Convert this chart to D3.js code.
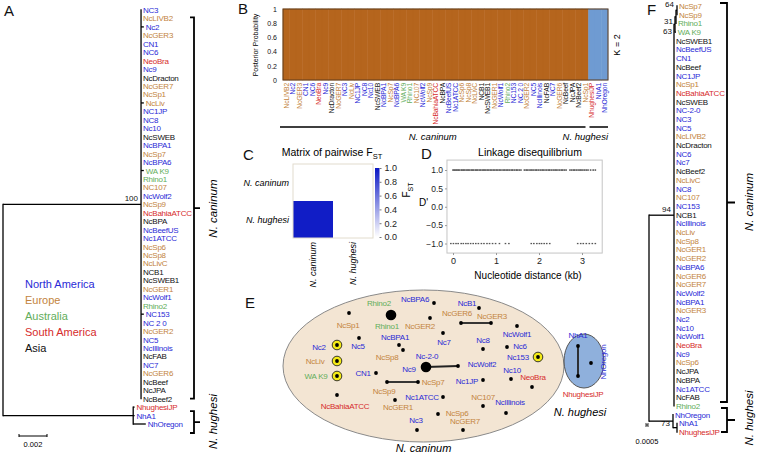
<!DOCTYPE html>
<html><head><meta charset="utf-8">
<script src="https://cdn.jsdelivr.net/npm/d3@7"></script>
<style>
body{margin:0;background:#fff}
svg{display:block;font-family:"Liberation Sans",Arial,sans-serif}
</style>
</head><body>
<svg id="c" width="757" height="453"></svg>
<script>
// ================= DATA =================
const regionNames  = ["North America","Europe","Australia","South America","Asia"];
const regionColors = ["#2a2ad6","#c3843e","#62ad5a","#d62b2b","#111111"];
const strainsNA = ["NC3","Nc2","CN1","NC6","Nc9","NC1JP","NC8","Nc10","NcBPA1","NcBPA6","NcWolf2","NcBeefUS","Nc1ATCC","NcWolf1","NC153","Nc153","NC 2 0","NC-2-0","Nc-2-0","NC5","Nc5","NcIllinois","NC7","Nc7","NhA1","NhOregon","NcB1","Nc8","Nc6","Nc1JP","Nc3"];
const strainsEU = ["NcLIVB2","NcGER3","NcGER7","NcSp1","NcLiv","NcSp7","NC107","NcSp9","NcSp6","NcSp8","NcLivC","NcGER1","NcGER2","NcGER6"];
const strainsAU = ["WA K9","Rhino1","Rhino2"];
const strainsSA = ["NeoBra","NcBahiaATCC","NhughesiJP"];
const strainsAS = ["NcDracton","NcSWEB","NcBPA","NCB1","NcSWEB1","NcFAB","NcBeef","NcJPA","NcBeef2"];

// Panel A: maximum-likelihood tree (branch lengths in substitutions/site)
const treeA = "((NC3:0,NcLIVB2:0,Nc2:0.0002,NcGER3:0,CN1:0,NC6:0,NeoBra:0,Nc9:0,NcDracton:0,NcGER7:0,NcSp1:0,NcLiv:0.0002,NC1JP:0,NC8:0,Nc10:0,NcSWEB:0,NcBPA1:0,NcSp7:0,NcBPA6:0,WA K9:0.0002,Rhino1:0,NC107:0,NcWolf2:0,NcSp9:0,NcBahiaATCC:0,NcBPA:0,NcBeefUS:0,Nc1ATCC:0,NcSp6:0,NcSp8:0,NcLivC:0,NCB1:0,NcSWEB1:0,NcGER1:0,NcWolf1:0,Rhino2:0,NC153:0.0002,NC 2 0:0,NcGER2:0,NC5:0,NcIllinois:0,NcFAB:0,NC7:0,NcGER6:0,NcBeef:0,NcJPA:0,NcBeef2:0)100:0.00986,(NhughesiJP:0.0001,NhA1:0.0001,NhOregon:0.0009):0.0093);";
const treeAScaleBar = 0.002;

// Panel B: STRUCTURE K = 2
const structLabels = ["NcLIVB2","Nc2","NcGER3","CN1","NC6","NeoBra","Nc9","NcDracton","NcGER7","NC3","NcLiv","NC1JP","NC8","Nc10","NcSWEB","NcBPA1","NcSp7","NcBPA6","WA K9","Rhino1","NC107","NcWolf2","NcSp9","NcBahiaATCC","NcBPA","NcBeefUS","Nc1ATCC","NcSp6","NcSp8","NcLivC","NCB1","NcSWEB1","NcGER1","NcWolf1","Rhino2","NC153","NC 2 0","NcGER2","NC5","NcIllinois","NcFAB","NC7","NcGER6","NcBeef","NcJPA","NcBeef2","NcSp1","NhughesiJP","NhA1","NhOregon"];
const structCluster1 = [1,1,1,1,1,1,1,1,1,1,1,1,1,1,1,1,1,1,1,1,1,1,1,1,1,1,1,1,1,1,1,1,1,1,1,1,1,1,1,1,1,1,1,1,1,1,1,0,0,0];
const structTicks = [0,0.2,0.4,0.6,0.8,1];
const structColors = ["#b5651d","#6f9bd2"];

// Panel C: pairwise FST
const fstPops = ["N. caninum","N. hughesi"];
const fstValues = [[0,null],[0.97,0]];
const fstTicks = [0,0.2,0.4,0.6,0.8,1.0];

// Panel D: linkage disequilibrium (distance kb, D')
const ldDistPos = [0.00,0.03,0.06,0.09,0.12,0.15,0.19,0.22,0.25,0.28,0.32,0.35,0.38,0.42,0.45,0.48,0.52,0.55,0.58,0.62,0.65,0.69,0.72,0.75,0.79,0.82,0.86,0.89,0.93,0.96,1.00,1.03,1.07,1.10,1.14,1.18,1.21,1.25,1.28,1.32,1.36,1.39,1.43,1.47,1.50,1.54,1.58,1.66,1.70,1.73,1.77,1.81,1.84,1.88,1.92,1.95,1.99,2.03,2.07,2.10,2.14,2.18,2.22,2.25,2.29,2.33,2.37,2.40,2.44,2.48,2.52,2.55,2.59,2.63,2.72,2.76,2.80,2.83,2.87,2.91,2.95,2.98,3.02,3.06,3.10,3.14,3.20,3.26,3.31];
const ldDistNeg = [-0.05,0.01,0.07,0.12,0.19,0.24,0.30,0.35,0.41,0.47,0.53,0.59,0.66,0.72,0.79,0.85,0.92,0.99,1.08,1.22,1.30,1.82,1.88,1.95,2.01,2.06,2.12,2.18,2.25,2.90,2.97,3.03,3.10,3.17,3.24,3.31];
const ldYTicks = [-1,-0.5,0,0.5,1];
const ldXTicks = [0,1,2,3];

// Panel E: haplotype network (layout units), number of isolates, highlighted haplotypes
const eHapX = [111,154,69,150,181,211,199,119,123,79,57,57,57,163,203,237,227,258,146,178,96,107,138,203,231,252,163,203,226,57,115,158,183,137,298,298,311];
const eHapY = [32,20,30,35,40,40,25,62,67,55,62,78,93,50,66,43,64,74,84,83,90,99,99,97,96,104,114,123,130,112,117,131,147,147,63,93,80];
const eHapCount = [2,1,1,1,1,1,1,1,1,1,1,1,1,1,1,1,1,1,2,1,1,1,1,1,1,1,1,1,1,1,1,1,1,1,1,1,1];
const eHapMarked = [0,0,0,0,0,0,0,0,0,0,1,1,1,0,0,0,0,1,0,0,0,0,0,0,0,0,0,0,0,0,0,0,0,0,0,0,0];
const eEdges = [[4,5],[21,22],[18,19],[34,35]];
const eLabNames = ["Rhino2","Rhino1","NcBPA6","NcSp1","NcGER2","NcGER6","NcGER3","NcB1","NcBPA1","NcSp8","Nc5","Nc2","NcLiv","WA K9","Nc7","Nc8","NcWolf1","Nc6","Nc153","Nc-2-0","Nc9","NcWolf2","CN1","NcSp9","NcSp7","Nc1JP","Nc10","NeoBra","Nc1ATCC","NC107","NcIllinois","NcBahiaATCC","NcGER1","NcSp6","NcGER7","Nc3","NhA1","NhughesiJP","NhOregon"];
const eLabX = [99,107,135,68,140,177,212,187,115,107,78,39,35,36,164,203,237,240,238,147,129,202,83,104,153,187,232,253,142,203,230,65,118,177,185,136,298,303,323];
const eLabY = [20,43,16,42,43,30,33,20,54,74,63,64,78,93,59,57,51,63,74,73,86,81,90,108,99,98,87,94,114,114,119,123,124,130,138,137,52,111,79];
const eSpecies = ["N. caninum","N. hughesi"];

// Panel F: second tree
const treeF = "(((((NcSp7:0,NcSp9:0)64:0.00025,Rhino1:0)31:0.00025,WA K9:0.0002)63:0.00025,NcSWEB1:0,NcBeefUS:0,CN1:0,NcBeef:0,NC1JP:0,NcSp1:0,NcBahiaATCC:0,NcSWEB:0,NC-2-0:0,NC3:0,NC5:0,NcLIVB2:0,NcDracton:0,NC6:0,Nc7:0,NcBeef2:0,NcLivC:0,NC8:0,NC107:0,NC153:0,NCB1:0,NcIllinois:0,NcLiv:0,NcSp8:0,NcGER1:0,NcGER2:0,NcBPA6:0,NcGER6:0,NcGER7:0,NcWolf2:0,NcBPA1:0,NcGER3:0,Nc2:0,Nc10:0,NcWolf1:0,NeoBra:0,Nc9:0,NcSp6:0,NcJPA:0,NcBPA:0,Nc1ATCC:0,NcFAB:0,Rhino2:0)94:0.00625,(NhOregon:0,(NhA1:0,NhughesiJP:0):0.001)73:0.006);";
const treeFScaleBar = 0.0005;

// ================= HELPERS =================
const svg = d3.select("#c");
const strainLists = [strainsNA,strainsEU,strainsAU,strainsSA,strainsAS];
function colorOf(name){
  for(let i=0;i<strainLists.length;i++) if(strainLists[i].includes(name)) return regionColors[i];
  return "#111";
}
function parseNewick(s){
  let i=0;
  function node(){
    const n={children:[]};
    if(s[i]==="("){
      i++; n.children.push(node());
      while(s[i]===","){i++; n.children.push(node());}
      i++;
    }
    let name=""; while(i<s.length && !",():;".includes(s[i])) name+=s[i++];
    n.name=name.trim();
    n.len=0;
    if(s[i]===":"){ i++; let l=""; while(i<s.length && !",();".includes(s[i])) l+=s[i++]; n.len=+l; }
    return n;
  }
  return node();
}
function layoutTree(str){
  const root=d3.hierarchy(parseNewick(str), d=>d.children.length?d.children:null);
  root.eachBefore(d=>{ d.dist = d.parent ? d.parent.dist + d.data.len : 0; });
  root.leaves().forEach((l,i)=>l.idx=i);
  root.eachAfter(d=>{ if(d.children) d.idx=(d.children[0].idx+d.children[d.children.length-1].idx)/2; });
  return root;
}
function drawTree(g, root, x, y, fs, supDy){
  const nodes=root.descendants();
  g.selectAll("line.h").data(nodes.filter(d=>d.parent)).join("line")
    .attr("x1",d=>x(d.parent.dist)).attr("x2",d=>x(d.dist))
    .attr("y1",d=>y(d.idx)).attr("y2",d=>y(d.idx))
    .attr("stroke","#000").attr("stroke-width",1.3);
  g.selectAll("line.v").data(nodes.filter(d=>d.children)).join("line")
    .attr("x1",d=>x(d.dist)).attr("x2",d=>x(d.dist))
    .attr("y1",d=>y(d.children[0].idx)).attr("y2",d=>y(d.children[d.children.length-1].idx))
    .attr("stroke","#000").attr("stroke-width",1.3).attr("stroke-linecap","square");
  g.selectAll("text.leaf").data(root.leaves()).join("text")
    .attr("x",d=>x(d.dist)+2).attr("y",d=>y(d.idx)+3)
    .attr("font-size",fs).attr("letter-spacing","-0.25px")
    .attr("fill",d=>colorOf(d.data.name)).text(d=>d.data.name);
  g.selectAll("text.sup").data(nodes.filter(d=>d.children && d.data.name)).join("text")
    .attr("x",d=>x(d.dist)-3).attr("y",d=>y(d.idx)+(supDy[d.data.name]??-3))
    .attr("text-anchor","end").attr("font-size",8).attr("fill","#111").text(d=>d.data.name);
}
function bracket(g, x, y1, y2, w, tick){
  g.append("path").attr("d",`M${x-w},${y1}H${x}V${y2}H${x-w}M${x},${(y1+y2)/2}H${x+tick}`)
    .attr("fill","none").attr("stroke","#000").attr("stroke-width",1.8);
}
function letter(x,y,t){ svg.append("text").attr("x",x).attr("y",y).attr("font-size",15).attr("fill","#111").text(t); }

// ================= PANEL A =================
(function(){
  const g=svg.append("g");
  const root=layoutTree(treeA);
  const x=d3.scaleLinear().domain([0,treeAScaleBar]).range([3,31]);
  const y=d3.scaleLinear().domain([0,49]).range([10,424]);
  drawTree(g, root, x, y, 8, {});
  bracket(g, 194, y(1)-1, y(46), 4, 6);
  bracket(g, 194, y(47)+4, y(49)+9, 4, 6);
  g.append("text").attr("transform",`translate(217,${(y(1)+y(46))/2}) rotate(-90)`).attr("text-anchor","middle")
    .attr("font-size",11.5).attr("font-style","italic").text("N. caninum");
  g.append("text").attr("transform",`translate(217,${(y(47)+y(49))/2+6}) rotate(-90)`).attr("text-anchor","middle")
    .attr("font-size",11.5).attr("font-style","italic").text("N. hughesi");
  g.selectAll("text.lg").data(regionNames).join("text")
    .attr("x",25).attr("y",(d,i)=>288+i*16).attr("font-size",11).attr("fill",(d,i)=>regionColors[i]).text(d=>d);
  const sb = x(treeAScaleBar)-x(0);
  g.append("path").attr("d",`M19,434V437M19,436H${19+sb}M${19+sb},434V437`).attr("stroke","#000").attr("fill","none");
  g.append("text").attr("x",19+sb/2).attr("y",447).attr("text-anchor","middle").attr("font-size",7.5).text("0.002");
  letter(4,16,"A");
})();

// ================= PANEL B =================
(function(){
  const g=svg.append("g");
  const x=d3.scaleBand().domain(structLabels).range([283,608]);
  const y=d3.scaleLinear().domain([0,1]).range([80,9]);
  const bw=x.bandwidth();
  g.selectAll("rect.c1").data(structLabels).join("rect")
    .attr("x",d=>x(d)).attr("width",bw)
    .attr("y",(d,i)=>y(structCluster1[i])).attr("height",(d,i)=>y(0)-y(structCluster1[i]))
    .attr("fill",structColors[0]).attr("stroke",structColors[0]).attr("stroke-width",0.5);
  g.selectAll("rect.c2").data(structLabels).join("rect")
    .attr("x",d=>x(d)).attr("width",bw)
    .attr("y",y(1)).attr("height",(d,i)=>y(structCluster1[i])-y(1))
    .attr("fill",structColors[1]).attr("stroke",structColors[1]).attr("stroke-width",0.5);
  g.append("rect").attr("x",283).attr("y",y(1)).attr("width",325).attr("height",y(0)-y(1))
    .attr("fill","none").attr("stroke","#5e3d1c").attr("stroke-width",1);
  const ax=g.append("g").attr("transform","translate(283,0)")
    .call(d3.axisLeft(y).tickValues(structTicks).tickSize(0).tickPadding(6)
      .tickFormat(d=>(d===0||d===1)?String(d):d.toFixed(1)));
  ax.select(".domain").remove();
  ax.selectAll("text").attr("font-size",7).attr("fill","#111").attr("font-family","Liberation Sans, Arial");
  g.append("text").attr("transform","translate(258,45) rotate(-90)").attr("text-anchor","middle")
    .attr("font-size",7).text("Posterior Probability");
  g.append("text").attr("transform","translate(620,45) rotate(-90)").attr("text-anchor","middle")
    .attr("font-size",9).text("K = 2");
  g.selectAll("text.sl").data(structLabels).join("text")
    .attr("transform",d=>`translate(${x(d)+bw/2},83) rotate(-90)`).attr("dy","0.35em")
    .attr("text-anchor","end").attr("font-size",6.8).attr("letter-spacing","-0.2px")
    .attr("fill",d=>colorOf(d)).text(d=>d);
  const cx1=x(structLabels[0])-3, cx2=x(structLabels[46])+bw-3;
  const hx1=x(structLabels[47])+1, hx2=x(structLabels[49])+bw;
  g.append("path").attr("d",`M${cx1},127H${cx2}M${hx1},127H${hx2}`).attr("stroke","#000").attr("stroke-width",1.6);
  g.append("text").attr("x",(cx1+cx2)/2).attr("y",140).attr("text-anchor","middle").attr("font-size",9.5).attr("font-style","italic").text("N. caninum");
  g.append("text").attr("x",hx2).attr("y",140).attr("text-anchor","end").attr("font-size",9.5).attr("font-style","italic").text("N. hughesi");
  letter(238,14,"B");
})();

// ================= PANEL C =================
(function(){
  const g=svg.append("g");
  const xb=d3.scaleBand().domain(fstPops).range([293,373]);
  const yb=d3.scaleBand().domain(fstPops).range([164,238]);
  const col=d3.scaleLinear().domain([0,1]).range(["#ffffff","#0a16c4"]);
  g.append("rect").attr("x",293).attr("y",164).attr("width",80).attr("height",74).attr("fill","#fff");
  const cells=[];
  fstValues.forEach((row,i)=>row.forEach((v,j)=>{ if(v!==null) cells.push({r:fstPops[i],c:fstPops[j],v}); }));
  g.selectAll("rect.cell").data(cells).join("rect")
    .attr("x",d=>xb(d.c)).attr("y",d=>yb(d.r)).attr("width",xb.bandwidth()).attr("height",yb.bandwidth())
    .attr("fill",d=>col(d.v));
  g.append("rect").attr("x",293).attr("y",164).attr("width",80).attr("height",74).attr("fill","none").attr("stroke","#e2dccd").attr("stroke-width",1);
  g.selectAll("text.row").data(fstPops).join("text")
    .attr("x",289).attr("y",d=>yb(d)+yb.bandwidth()/2+3).attr("text-anchor","end")
    .attr("font-size",9).attr("font-style","italic").text(d=>d);
  g.selectAll("text.colh").data(fstPops).join("text")
    .attr("transform",d=>`translate(${xb(d)+xb.bandwidth()/2},242) rotate(-90)`).attr("dy","0.35em")
    .attr("text-anchor","end").attr("font-size",9).attr("font-style","italic").text(d=>d);
  const ys=d3.scaleLinear().domain([0,1]).range([237,168]);
  const grad=svg.append("defs").append("linearGradient").attr("id","fstg").attr("x1",0).attr("y1",1).attr("x2",0).attr("y2",0);
  grad.selectAll("stop").data(fstTicks).join("stop").attr("offset",d=>d).attr("stop-color",d=>col(d));
  g.append("rect").attr("x",375).attr("y",ys(1)).attr("width",4.5).attr("height",ys(0)-ys(1)).attr("fill","url(#fstg)");
  const ax=g.append("g").attr("transform","translate(379.5,0)")
    .call(d3.axisRight(ys).tickValues(fstTicks).tickSize(2).tickPadding(3).tickFormat(d3.format(".1f")));
  ax.select(".domain").remove();
  ax.selectAll("line").attr("stroke","#777");
  ax.selectAll("text").attr("font-size",9).attr("fill","#222").attr("font-family","Liberation Sans, Arial");
  const ft=g.append("text").attr("transform","translate(410,190) rotate(-90)").attr("text-anchor","middle").attr("font-size",10);
  ft.append("tspan").text("F");
  ft.append("tspan").attr("font-size",7).attr("dy",2.5).text("ST");
  const tt=g.append("text").attr("x",332).attr("y",156).attr("text-anchor","middle").attr("font-size",10.5);
  tt.append("tspan").text("Matrix of pairwise F");
  tt.append("tspan").attr("font-size",7.5).attr("dy",2.5).text("ST");
  letter(243,160,"C");
})();

// ================= PANEL D =================
(function(){
  const g=svg.append("g");
  const x=d3.scaleLinear().domain([0,3]).range([453,582]);
  const y=d3.scaleLinear().domain([-1,1]).range([243.5,170]);
  const x0=x(-0.14), x1=x(3.47), y0=y(-1.26), y1=y(1.27);
  g.append("rect").attr("x",x0).attr("y",y1).attr("width",x1-x0).attr("height",y0-y1)
    .attr("fill","#fff").attr("stroke","#c4c4c4").attr("stroke-width",1);
  g.selectAll("rect.p").data(ldDistPos).join("rect")
    .attr("x",d=>x(d)-0.8).attr("y",y(1)-0.6).attr("width",1.6).attr("height",1.3).attr("fill","#333");
  g.selectAll("rect.n").data(ldDistNeg).join("rect")
    .attr("x",d=>x(d)-0.8).attr("y",y(-1)-0.6).attr("width",1.6).attr("height",1.3).attr("fill","#555");
  const ay=g.append("g").attr("transform",`translate(${x0},0)`)
    .call(d3.axisLeft(y).tickValues(ldYTicks).tickSize(2).tickPadding(2).tickFormat(d3.format(".1f")));
  ay.select(".domain").remove();
  ay.selectAll("line").attr("stroke","#999");
  ay.selectAll("text").attr("font-size",8.5).attr("fill","#222").attr("font-family","Liberation Sans, Arial");
  const axx=g.append("g").attr("transform",`translate(0,${y0})`)
    .call(d3.axisBottom(x).tickValues(ldXTicks).tickSize(2).tickPadding(3).tickFormat(d3.format("d")));
  axx.select(".domain").remove();
  axx.selectAll("line").attr("stroke","#999");
  axx.selectAll("text").attr("font-size",9).attr("fill","#222").attr("font-family","Liberation Sans, Arial");
  g.append("text").attr("x",528).attr("y",279).attr("text-anchor","middle").attr("font-size",10).text("Nucleotide distance (kb)");
  g.append("text").attr("x",530).attr("y",156).attr("text-anchor","middle").attr("font-size",10.5).text("Linkage disequilibrium");
  g.append("text").attr("x",419).attr("y",206).attr("font-size",10).text("D'");
  letter(421,159,"D");
})();

// ================= PANEL E =================
(function(){
  const g=svg.append("g");
  const x=d3.scaleLinear().domain([0,330]).range([280,610]);
  const y=d3.scaleLinear().domain([0,170]).range([283,453]);
  const r=d3.scaleLinear().domain([1,2]).range([1.9,5.3]);
  g.append("ellipse").attr("cx",x(143.5)).attr("cy",y(83)).attr("rx",x(140.5)-x(0)).attr("ry",y(76)-y(0))
    .attr("fill","#f3e5d3").attr("stroke","#8a8a8a").attr("stroke-width",1);
  g.append("ellipse").attr("cx",x(304)).attr("cy",y(78)).attr("rx",x(20)-x(0)).attr("ry",y(27)-y(0))
    .attr("fill","#8fb0dc").attr("stroke","#555").attr("stroke-width",1);
  g.selectAll("line.e").data(eEdges).join("line")
    .attr("x1",d=>x(eHapX[d[0]])).attr("y1",d=>y(eHapY[d[0]]))
    .attr("x2",d=>x(eHapX[d[1]])).attr("y2",d=>y(eHapY[d[1]]))
    .attr("stroke","#222").attr("stroke-width",1.8);
  const idx=eHapX.map((d,i)=>i);
  g.selectAll("circle.ring").data(idx.filter(i=>eHapMarked[i])).join("circle")
    .attr("cx",i=>x(eHapX[i])).attr("cy",i=>y(eHapY[i])).attr("r",4.8)
    .attr("fill","#f4ea16").attr("stroke","#222").attr("stroke-width",0.9);
  g.selectAll("circle.h").data(idx).join("circle")
    .attr("cx",i=>x(eHapX[i])).attr("cy",i=>y(eHapY[i])).attr("r",i=>r(eHapCount[i]))
    .attr("fill","#000");
  g.selectAll("text.el").data(eLabNames).join("text")
    .attr("transform",(d,i)=>`translate(${x(eLabX[i])},${y(eLabY[i])})`+(d==="NhOregon"?" rotate(-90)":""))
    .attr("dy","0.35em").attr("text-anchor","middle").attr("font-size",8).attr("letter-spacing","-0.25px")
    .attr("fill",d=>colorOf(d)).text(d=>d);
  g.append("text").attr("x",x(143.5)).attr("y",452).attr("text-anchor","middle").attr("font-size",11).attr("font-style","italic").text(eSpecies[0]);
  g.append("text").attr("x",x(300)).attr("y",416).attr("text-anchor","middle").attr("font-size",11).attr("font-style","italic").text(eSpecies[1]);
  letter(245,308,"E");
})();

// ================= PANEL F =================
(function(){
  const g=svg.append("g");
  const root=layoutTree(treeF);
  const x=d3.scaleLinear().domain([0,treeFScaleBar]).range([649,651]);
  const y=d3.scaleLinear().domain([0,49]).range([6,432]);
  drawTree(g, root, x, y, 8, {"64":-3,"31":7,"63":10,"94":-3,"73":5});
  bracket(g, 727, 3, 402, 7, 8);
  bracket(g, 727, 408, 432, 6, 8);
  g.append("text").attr("transform","translate(753,202) rotate(-90)").attr("text-anchor","middle")
    .attr("font-size",11.5).attr("font-style","italic").text("N. caninum");
  g.append("text").attr("transform","translate(753,418) rotate(-90)").attr("text-anchor","middle")
    .attr("font-size",11.5).attr("font-style","italic").text("N. hughesi");
  const sb=x(treeFScaleBar)-x(0);
  g.append("path").attr("d",`M646,423V427M646,425H${646+sb}M${646+sb},423V427`).attr("stroke","#000").attr("fill","none").attr("stroke-width",0.8);
  g.append("text").attr("x",647).attr("y",444).attr("text-anchor","middle").attr("font-size",7.5).text("0.0005");
  letter(647,15,"F");
})();
</script>
</body></html>
